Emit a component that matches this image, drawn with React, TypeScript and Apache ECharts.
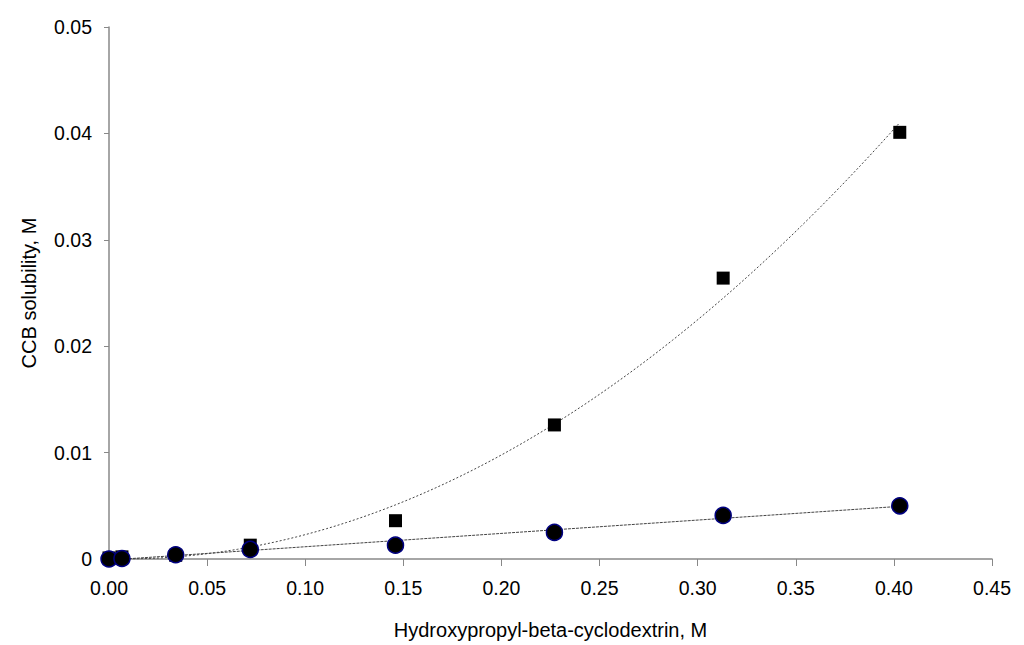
import React, { useEffect, useRef } from "react";
import * as echarts from "echarts";

const concentrations = [0, 0.0066, 0.034, 0.072, 0.146, 0.227, 0.313, 0.403];
const squareSolubility = [0.0001, 0.0002, 0.00035, 0.0013, 0.0036, 0.0126, 0.0264, 0.0401];
const circleSolubility = [0.0, 0.00005, 0.0004, 0.0009, 0.0013, 0.0025, 0.0041, 0.005];
const xTickLabels = ["0.00", "0.05", "0.10", "0.15", "0.20", "0.25", "0.30", "0.35", "0.40", "0.45"];
const yTickLabels = ["0", "0.01", "0.02", "0.03", "0.04", "0.05"];

// least squares polynomial fit (degree n) of the data
function polyFit(xs: number[], ys: number[], n: number): number[] {
  const m = n + 1;
  const A: number[][] = [];
  for (let i = 0; i < m; i++) {
    A.push(new Array(m + 1).fill(0));
    for (let j = 0; j < m; j++) {
      let s = 0;
      for (let k = 0; k < xs.length; k++) s += Math.pow(xs[k], i + j);
      A[i][j] = s;
    }
    let t = 0;
    for (let k = 0; k < xs.length; k++) t += ys[k] * Math.pow(xs[k], i);
    A[i][m] = t;
  }
  for (let c = 0; c < m; c++) {
    let p = c;
    for (let r = c + 1; r < m; r++) if (Math.abs(A[r][c]) > Math.abs(A[p][c])) p = r;
    [A[c], A[p]] = [A[p], A[c]];
    for (let r = 0; r < m; r++) {
      if (r === c) continue;
      const f = A[r][c] / A[c][c];
      for (let j = c; j <= m; j++) A[r][j] -= f * A[c][j];
    }
  }
  return A.map((row, i) => row[m] / row[i]);
}

function evalPoly(coef: number[], x: number) {
  return coef.reduce((s, c, i) => s + c * Math.pow(x, i), 0);
}

export default function App() {
  const ref = useRef<HTMLDivElement>(null);
  useEffect(() => {
    if (!ref.current) return;
    const chart = echarts.init(ref.current, null, { renderer: "svg" });
    const quad = polyFit(concentrations, squareSolubility, 2);
    const lin = polyFit(concentrations, circleSolubility, 1);
    const xMin = concentrations[0];
    const xMax = concentrations[concentrations.length - 1];
    const steps = 80;
    const quadLine: number[][] = [];
    const linLine: number[][] = [];
    for (let i = 0; i <= steps; i++) {
      const x = xMin + ((xMax - xMin) * i) / steps;
      quadLine.push([x, evalPoly(quad, x)]);
    }
    linLine.push([xMin, evalPoly(lin, xMin)], [xMax, evalPoly(lin, xMax)]);
    const font = "'Liberation Sans', Arial, sans-serif";
    chart.setOption({
      animation: false,
      grid: { left: 109, right: 32, top: 27, bottom: 84 },
      xAxis: {
        type: "value",
        min: 0,
        max: 0.45,
        interval: 0.05,
        name: "Hydroxypropyl-beta-cyclodextrin, M",
        nameLocation: "middle",
        nameGap: 61,
        nameTextStyle: { fontFamily: font, fontSize: 20, color: "#000" },
        axisLine: { lineStyle: { color: "#888", width: 1.5 } },
        axisTick: { show: true, length: 7, lineStyle: { color: "#888" } },
        axisLabel: {
          fontFamily: font,
          fontSize: 19.5,
          color: "#000",
          margin: 19,
          formatter: (v: number) => xTickLabels[Math.round(v / 0.05)] ?? "",
        },
        splitLine: { show: false },
      },
      yAxis: {
        type: "value",
        min: 0,
        max: 0.05,
        interval: 0.01,
        name: "CCB solubility, M",
        nameLocation: "middle",
        nameGap: 70,
        nameTextStyle: { fontFamily: font, fontSize: 20, color: "#000" },
        axisLine: { show: true, lineStyle: { color: "#888", width: 1.5 } },
        axisTick: { show: true, length: 5, lineStyle: { color: "#888" } },
        axisLabel: {
          fontFamily: font,
          fontSize: 19.5,
          color: "#000",
          margin: 17,
          formatter: (v: number) => yTickLabels[Math.round(v / 0.01)] ?? "",
        },
        splitLine: { show: false },
      },
      series: [
        {
          type: "line",
          data: quadLine,
          showSymbol: false,
          symbol: "none",
          lineStyle: { color: "#444", width: 1, type: [2, 2] },
          z: 1,
        },
        {
          type: "line",
          data: linLine,
          showSymbol: false,
          symbol: "none",
          lineStyle: { color: "#444", width: 1, type: [3, 1] },
          z: 1,
        },
        {
          type: "scatter",
          data: concentrations.map((x, i) => [x, squareSolubility[i]]),
          symbol: "rect",
          symbolSize: 13,
          itemStyle: { color: "#000", opacity: 1 },
          z: 3,
        },
        {
          type: "scatter",
          data: concentrations.map((x, i) => [x, circleSolubility[i]]),
          symbol: "circle",
          symbolSize: 16,
          itemStyle: { color: "#000", borderColor: "#000080", borderWidth: 1.5, opacity: 1 },
          z: 4,
        },
      ],
    });
    return () => chart.dispose();
  }, []);
  return (
    <div
      ref={ref}
      style={{ position: "fixed", left: 0, top: 0, width: 1024, height: 645, background: "#fff" }}
    />
  );
}
